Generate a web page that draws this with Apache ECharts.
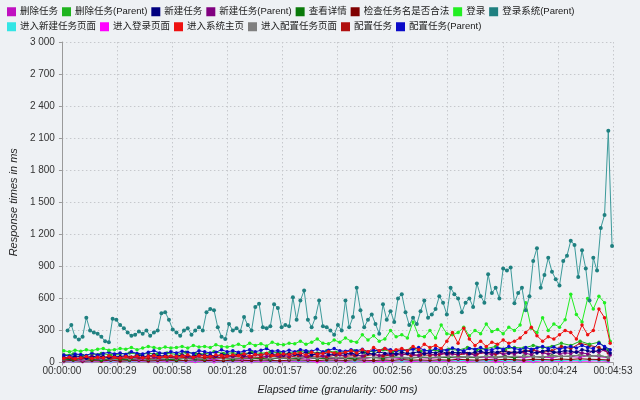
<!DOCTYPE html>
<html><head><meta charset="utf-8">
<script src="https://cdn.jsdelivr.net/npm/echarts@6/dist/echarts.min.js"></script>
<style>html,body{margin:0;padding:0;background:#eef1f4}#c{width:640px;height:400px}</style>
</head><body><div id="c"></div>
<script>
// ---- series names (legend order) ----
const seriesNames = ['删除任务','删除任务(Parent)','新建任务','新建任务(Parent)','查看详情','检查任务名是否合法','登录','登录系统(Parent)',
  '进入新建任务页面','进入登录页面','进入系统主页','进入配置任务页面','配置任务','配置任务(Parent)'];
const seriesColors = ['#c010c0','#1fb41f','#000080','#800080','#0a7a0a','#800000','#22ee22','#1f8080',
  '#33e5e5','#ff00ff','#ee1111','#808080','#b01010','#0a0ac8'];

// sample timing (seconds): start offset and step for each series
const seriesStart = [1,1,1,1,1,1,1,3,1,1,1,1,1,1];
const seriesStep  = [5,5,3,3,5,5,3,2,5,5,3,5,5,3];

// ---- values (ms) ----
const delTask = [25,30,20,35,25,30,40,25,30,35, 30,25,35,40,30,35,25,40,35,30, 35,40,30,45,35,40,30,45,40,35,
  40,45,35,50,40,45,35,50,45,40, 45,50,40,55,45,50,40,60,50,45, 55,50,45,60,55,50,65,55,45];
const delTaskParent = [70,80,65,75,85,70,80,90,75,85, 80,90,75,95,85,80,100,85,90,80, 95,85,100,90,85,105,95,90,110,95,
  100,110,95,105,120,100,110,130,105,115, 110,125,115,140,120,130,150,125,140,135, 160,140,150,180,160,200,170,190,120];
const newTask = [50,45,60,55,40,50,65,55,45,60, 55,65,50,70,60,55,75,60,65,55, 60,70,65,55,80,65,70,60,75,70,
  65,80,70,90,75,70,85,75,80,70, 85,75,80,95,70,85,90,75,80,85, 80,90,75,95,85,80,100,85,90,80,
  95,85,90,100,80,95,90,105,85,95, 90,100,85,95,105,90,100,95,110,90, 100,95,110,100,90,105,115,95,100,110,
  105,95,120,110,100,115,130,90];
const newTaskParent = [40,55,45,35,50,60,45,40,55,50, 45,60,50,55,40,65,50,45,60,55, 50,65,55,45,60,70,50,55,65,60,
  55,70,60,50,75,65,55,70,60,65, 60,75,65,55,70,80,60,65,75,70, 65,80,70,60,85,75,65,80,70,75,
  70,85,75,65,90,80,70,85,75,80, 75,90,80,70,95,85,75,90,80,85, 80,95,85,75,100,90,80,95,85,90,
  85,100,90,80,110,95,120,70];
const viewDetail = [30,25,35,30,20,35,30,25,40,30, 35,30,25,40,35,30,45,35,30,40, 35,40,30,45,35,40,50,35,40,45,
  40,35,50,45,40,55,45,40,50,45, 50,45,55,50,45,60,50,55,45,60, 55,50,65,55,60,70,60,65,50];
const checkName = [15,20,12,18,15,22,14,18,20,15, 18,22,16,20,25,18,20,16,22,20, 18,24,20,16,22,25,20,18,24,22,
  20,26,22,18,25,20,28,22,24,20, 26,22,30,25,22,28,24,30,26,22, 30,28,25,32,28,35,30,28,24];
const login = [110,100,115,105,120,110,125,130,115,120, 130,125,140,120,135,150,140,130,145,135,
  140,150,135,160,145,150,140,165,150,145, 155,170,150,180,160,175,155,190,170,165,
  180,175,200,170,190,220,180,175,210,190, 230,200,190,260,210,250,200,220,300,240,
  260,230,380,250,240,300,230,350,270,260, 280,330,250,300,270,360,290,310,270,330,
  300,350,560,320,280,420,300,360,330,400, 640,450,380,600,500,620,560,200];
const loginParent = [300,350,240,215,240,420,300,280,270,240,200,190,410,
  400,350,320,280,250,260,290,270,300,250,280,
  300,460,470,400,310,280,250,300,320,260,300,330,300,
  470,500,490,330,240,220,360,300,320,290,425,350,
  300,520,550,330,320,340,545,510,330,350,340,610,400,580,
  675,400,330,420,580,340,330,300,260,350,300,580,
  330,425,700,490,330,400,450,360,270,545,400,480,380,600,
  640,470,350,420,360,480,580,420,450,500,620,560,450,700,
  640,600,470,560,600,520,740,620,560,825,650,700,600,
  880,860,890,555,650,700,490,620,950,1070,700,820,980,
  850,780,720,950,1000,1140,1100,800,1050,880,580,980,
  860,1260,1380,2170,1090];
const enterNewPage = [12,15,10,14,18,12,15,11,16,14, 13,17,12,15,18,14,16,12,15,17, 14,18,15,13,17,16,14,19,15,17,
  16,14,18,15,20,16,14,18,17,15, 19,16,18,20,15,17,21,18,16,20, 18,22,17,19,21,18,24,20,16];
const enterLoginPage = [8,10,6,9,12,7,10,8,11,9, 7,10,12,8,9,11,7,10,9,12, 8,11,10,7,12,9,10,8,11,13,
  9,10,12,8,11,10,13,9,12,10, 11,9,13,10,12,14,10,11,13,12, 10,14,12,11,15,12,13,16,10];
const enterHome = [40,50,35,45,55,40,50,45,60,50, 45,55,50,60,45,55,65,50,55,60, 55,60,70,50,65,60,55,70,65,60,
  70,65,80,60,75,70,85,65,75,80, 75,85,90,70,95,80,85,100,90,85, 95,110,90,120,100,140,110,130,105,120,
  130,110,150,120,170,140,160,130,200,280, 180,320,220,160,200,150,190,170,210,180,
  200,230,280,330,250,200,240,220,260,300, 280,220,350,260,300,500,420,180];
const enterConfigPage = [35,40,30,45,38,32,42,36,40,34, 38,44,36,40,46,38,42,36,44,40, 42,48,40,45,38,50,44,42,48,46,
  44,50,42,48,55,45,50,46,52,48, 50,56,48,54,50,58,52,50,60,55, 58,52,62,56,60,70,62,66,50];
const configTask = [40,35,45,38,50,42,36,48,44,40, 46,52,42,48,55,45,50,44,58,50, 52,48,60,55,50,65,56,60,52,70,
  58,65,60,75,62,70,80,65,72,68, 75,90,70,85,78,95,80,110,90,100, 120,95,110,150,130,180,160,140,90];
const configTaskParent = [70,60,80,75,65,90,70,85,95,80, 90,75,100,85,80,95,110,90,85,100, 90,105,95,85,110,100,90,95,120,100,
  110,95,105,120,100,115,130,105,110,100, 115,100,120,110,105,125,100,115,130,110, 105,120,110,125,100,115,110,130,120,105,
  120,110,125,140,115,105,130,120,115,135, 120,110,130,125,140,115,120,135,125,150, 130,120,140,125,135,150,130,145,125,140,
  150,135,160,140,130,180,150,120];

const seriesValues = [delTask,delTaskParent,newTask,newTaskParent,viewDetail,checkName,login,loginParent,
  enterNewPage,enterLoginPage,enterHome,enterConfigPage,configTask,configTaskParent];

// ---- axes ----
const xMin = 0, xMax = 293.5, xInterval = 29.35;
const yMin = 0, yMax = 3000, yInterval = 300;

// drawing order (bottom -> top)
const drawOrder = [9,8,5,0,4,11,12,1,3,2,13,6,10,7];

function fmtTime(v){
  const s = Math.floor(v + 1e-6);
  const p = n => String(n).padStart(2,'0');
  return p(Math.floor(s/3600)) + ':' + p(Math.floor(s/60)%60) + ':' + p(s%60);
}
function fmtNum(v){ return String(v).replace(/\B(?=(\d{3})+(?!\d))/g, ' '); }

const latin = 'Liberation Sans, Arial, "Noto Sans CJK SC", sans-serif';

const series = drawOrder.map((i, k) => ({
  name: seriesNames[i],
  type: 'line',
  data: seriesValues[i].map((v, j) => [seriesStart[i] + j * seriesStep[i], v]),
  symbol: 'circle',
  symbolSize: i === 7 ? 4 : 3.5,
  showSymbol: true,
  z: 2 + k * 0.01,
  color: seriesColors[i],
  lineStyle: { width: 1, color: i === 7 ? '#3c9a9a' : seriesColors[i] },
  itemStyle: { color: seriesColors[i] },
  emphasis: { disabled: true },
  animation: false
}));

const legendCommon = {
  icon: 'rect', itemWidth: 9, itemHeight: 9, itemGap: 4, left: 2,
  textStyle: { fontSize: 9.5, color: '#1a1a1a', fontFamily: latin, padding: [0,0,0,-1] },
  selectedMode: false
};

const chart = echarts.init(document.getElementById('c'), null, { renderer: 'canvas' });
chart.setOption({
  backgroundColor: '#eef1f4',
  animation: false,
  legend: [
    Object.assign({}, legendCommon, { top: 2, data: seriesNames.slice(0, 8) }),
    Object.assign({}, legendCommon, { top: 17, data: seriesNames.slice(8) })
  ],
  grid: { left: 53, right: 27, top: 42, bottom: 34, containLabel: false },
  xAxis: {
    type: 'value', min: xMin, max: xMax, interval: xInterval,
    name: 'Elapsed time (granularity: 500 ms)', nameLocation: 'middle', nameGap: 22,
    nameTextStyle: { fontStyle: 'italic', fontSize: 10.5, color: '#222', fontFamily: latin },
    axisLine: { show: true, lineStyle: { color: '#9a9a9a' } },
    axisTick: { show: true, length: 3, lineStyle: { color: '#9a9a9a' } },
    axisLabel: { formatter: fmtTime, fontSize: 10, color: '#333', margin: 4, fontFamily: latin, showMaxLabel: true },
    splitLine: { show: true, lineStyle: { type: [1.5, 2.5], color: '#c6c8cc' } }
  },
  yAxis: {
    type: 'value', min: yMin, max: yMax, interval: yInterval,
    name: 'Response times in ms', nameLocation: 'middle', nameGap: 37,
    nameTextStyle: { fontStyle: 'italic', fontSize: 11, color: '#222', fontFamily: latin },
    axisLine: { show: true, lineStyle: { color: '#9a9a9a' } },
    axisTick: { show: true, length: 3, lineStyle: { color: '#9a9a9a' } },
    axisLabel: { formatter: fmtNum, fontSize: 10, color: '#333', margin: 7, fontFamily: latin },
    splitLine: { show: true, lineStyle: { type: [1.5, 2.5], color: '#c6c8cc' } }
  },
  series: series
});
</script>
</body></html>
